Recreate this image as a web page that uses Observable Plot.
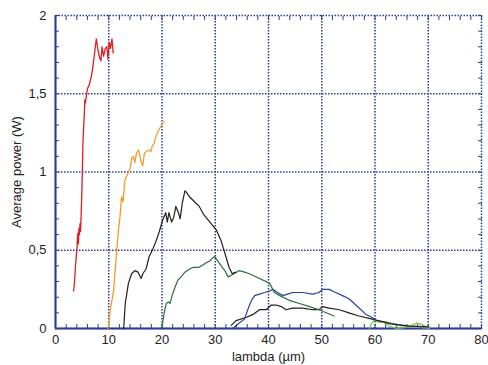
<!DOCTYPE html>
<html>
<head>
<meta charset="utf-8">
<script src="https://cdn.jsdelivr.net/npm/d3@7"></script>
<script src="https://cdn.jsdelivr.net/npm/@observablehq/plot@0.6"></script>
<style>
  html, body { margin: 0; padding: 0; background: #fff; }
  #chart svg { display: block; }
</style>
</head>
<body>
<div id="chart"></div>
<script>
// Tick values
const xTicks = [0, 10, 20, 30, 40, 50, 60, 70, 80];
const yTicks = [0, 0.5, 1, 1.5, 2];

// Series: [lambda (µm), average power (W)]
const red = [[3.4,0.24],[3.6,0.31],[3.75,0.40],[3.9,0.46],[4.05,0.52],[4.1,0.57],[4.2,0.61],[4.3,0.54],[4.4,0.64],[4.5,0.6],[4.6,0.67],[4.7,0.62],[4.8,0.71],[4.95,0.88],[5.05,1.02],[5.15,1.18],[5.3,1.3],[5.42,1.37],[5.5,1.46],[5.6,1.44],[5.74,1.47],[5.98,1.53],[6.36,1.56],[6.73,1.61],[6.97,1.66],[7.23,1.73],[7.48,1.8],[7.66,1.85],[7.98,1.78],[8.28,1.73],[8.54,1.71],[8.73,1.8],[9.03,1.74],[9.35,1.79],[9.66,1.8],[9.85,1.72],[10.09,1.83],[10.34,1.79],[10.6,1.85],[10.84,1.76]];
const orange = [[9.9,0],[10.3,0.12],[10.9,0.24],[11.2,0.37],[11.5,0.5],[11.8,0.62],[12.1,0.71],[12.4,0.84],[12.7,0.81],[13.0,0.94],[13.3,0.97],[13.6,0.99],[14.0,1.02],[14.3,1.09],[14.6,1.1],[14.9,1.06],[15.2,1.12],[15.6,1.14],[16.1,1.06],[16.4,1.04],[16.7,1.12],[17.0,1.13],[17.5,1.14],[17.9,1.13],[18.2,1.17],[18.5,1.18],[18.8,1.22],[19.1,1.25],[19.6,1.28],[20.1,1.31],[20.4,1.32]];
const black = [[12.8,0],[13.1,0.16],[13.7,0.29],[14.3,0.35],[14.9,0.37],[15.5,0.36],[16.1,0.32],[16.4,0.35],[17.0,0.38],[17.6,0.46],[18.3,0.51],[18.9,0.56],[19.5,0.62],[20.1,0.69],[20.7,0.74],[21.0,0.68],[21.3,0.74],[21.8,0.68],[22.2,0.71],[22.6,0.78],[23.1,0.74],[23.4,0.70],[23.8,0.80],[24.3,0.88],[24.6,0.87],[25.2,0.84],[26.1,0.81],[27.0,0.78],[27.8,0.73],[29.0,0.68],[30.2,0.63],[31.1,0.56],[32.0,0.46],[32.6,0.39],[33.2,0.35],[33.8,0.36]];
const darkGreen = [[20.0,0.01],[20.4,0.1],[20.8,0.16],[21.2,0.17],[21.5,0.16],[21.9,0.21],[22.4,0.26],[23.0,0.31],[23.6,0.33],[24.3,0.36],[25.2,0.38],[25.8,0.39],[26.8,0.39],[27.4,0.40],[28.3,0.42],[28.9,0.43],[29.5,0.45],[29.9,0.46],[30.5,0.43],[31.1,0.40],[31.8,0.37],[32.4,0.33],[33.0,0.34],[34.0,0.36],[34.5,0.37],[35.5,0.36],[36.4,0.35],[38.3,0.32],[40.2,0.29],[41.1,0.23],[42.1,0.21],[43.9,0.18],[45.8,0.16],[47.7,0.14],[49.5,0.12],[52.3,0.08]];
const blue = [[33.3,0],[34.3,0.03],[35.5,0.06],[36.1,0.12],[36.8,0.18],[37.4,0.21],[38.3,0.22],[39.3,0.23],[40.2,0.24],[40.8,0.25],[41.7,0.23],[42.7,0.21],[43.6,0.22],[44.5,0.23],[46.4,0.23],[48.3,0.22],[49.5,0.23],[50.1,0.25],[51.4,0.25],[52.6,0.23],[53.9,0.21],[55.1,0.19],[56.4,0.15],[58.3,0.09],[59.5,0.07],[60.1,0.055]];
const black2 = [[33.0,0.02],[33.9,0.05],[35.8,0.07],[37.1,0.09],[38.3,0.12],[39.6,0.12],[40.5,0.15],[41.4,0.15],[42.4,0.14],[43.3,0.12],[44.5,0.13],[46.4,0.13],[48.3,0.12],[49.5,0.12],[50.1,0.14],[51.4,0.13],[53.3,0.12],[55.1,0.1],[57.0,0.08],[59.5,0.06],[63.0,0.03],[66.5,0.015],[70.1,0.01]];
const grey = [[60.0,0.05],[62.0,0.04],[64.0,0.025],[66.0,0.015],[68.0,0.01],[70.0,0.005]];
const lightGreen = [[58.9,0],[59.5,0.04],[60.1,0.055],[60.7,0.04],[61.4,0.045],[62.3,0.025],[63.0,0.01],[64.2,0],[65.5,0.005],[66.9,0.02],[67.9,0.035],[68.8,0.025],[69.7,0.01],[70.2,0]];

const gridColor = "#2a3c96";
const fmt = d => String(d).replace(".", ",");
const X = d => d[0], Y = d => d[1];

const chart = Plot.plot({
  width: 488,
  height: 365,
  marginLeft: 55,
  marginRight: 7,
  marginTop: 15,
  marginBottom: 37,
  style: {fontFamily: "'Liberation Sans', Arial, sans-serif", fontSize: "13px", color: "#222", background: "#fff"},
  x: {domain: [0, 80]},
  y: {domain: [0, 2]},
  marks: [
    Plot.gridX(xTicks.slice(1, -1), {stroke: gridColor, strokeOpacity: 1, strokeWidth: 1.5, strokeDasharray: "1.5,1.5"}),
    Plot.gridY(yTicks.slice(1, -1), {stroke: gridColor, strokeOpacity: 1, strokeWidth: 1.5, strokeDasharray: "1.5,1.5"}),
    Plot.frame({stroke: gridColor, strokeWidth: 1.5, strokeDasharray: "1.5,1.5"}),
    // minor inward ticks
    Plot.axisX(d3.range(0, 81, 2), {anchor: "bottom", tickSize: -4, tickFormat: () => "", stroke: gridColor, label: null}),
    Plot.axisX(d3.range(0, 81, 2), {anchor: "top", tickSize: -4, tickFormat: () => "", stroke: gridColor, label: null}),
    Plot.axisY(d3.range(0, 2.01, 0.1), {anchor: "left", tickSize: -4, tickFormat: () => "", stroke: gridColor, label: null}),
    Plot.axisY(d3.range(0, 2.01, 0.1), {anchor: "right", tickSize: -4, tickFormat: () => "", stroke: gridColor, label: null}),
    // labelled axes
    Plot.axisX(xTicks, {anchor: "bottom", tickSize: 0, tickPadding: 6, fontSize: 13, label: null}),
    Plot.axisX([], {anchor: "bottom", tickSize: 0, label: "lambda (µm)", labelAnchor: "center", labelOffset: 32, labelArrow: "none"}),
    Plot.axisY(yTicks, {anchor: "left", tickSize: 0, tickPadding: 9, fontSize: 13, tickFormat: fmt, label: "Average power (W)", labelAnchor: "center", labelOffset: 44, labelArrow: "none"}),
    Plot.ruleX([0], {stroke: gridColor, strokeWidth: 2}),
    Plot.ruleY([0], {stroke: gridColor, strokeWidth: 2}),
    // data
    Plot.line(grey, {x: X, y: Y, stroke: "#9a9a9a", strokeWidth: 2}),
    Plot.line(lightGreen, {x: X, y: Y, stroke: "#6cc644", strokeWidth: 1.2}),
    Plot.line(black2, {x: X, y: Y, stroke: "#231f20", strokeWidth: 1.2}),
    Plot.line(blue, {x: X, y: Y, stroke: "#2445a3", strokeWidth: 1.2}),
    Plot.line(darkGreen, {x: X, y: Y, stroke: "#2c6e36", strokeWidth: 1.2}),
    Plot.line(black, {x: X, y: Y, stroke: "#231f20", strokeWidth: 1.2}),
    Plot.line(orange, {x: X, y: Y, stroke: "#f7931e", strokeWidth: 1.2}),
    Plot.line(red, {x: X, y: Y, stroke: "#e31b23", strokeWidth: 1.3})
  ]
});
document.getElementById("chart").appendChild(chart);
</script>
</body>
</html>
